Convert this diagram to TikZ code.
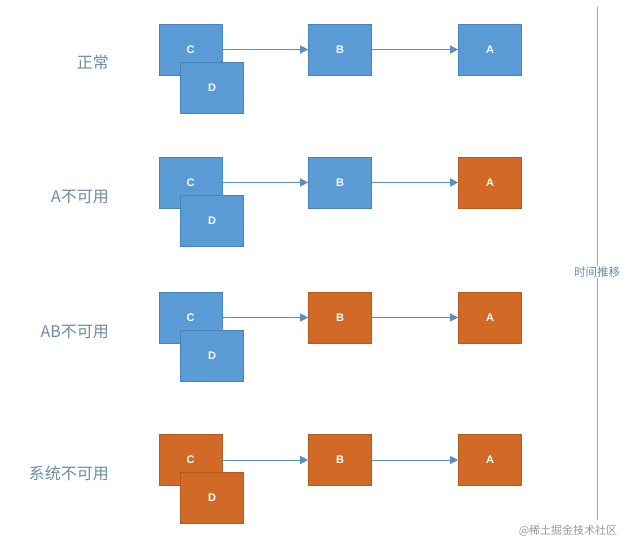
\documentclass[tikz,border=0pt]{standalone}
\usepackage{fontspec}
\setmainfont{Liberation Sans}
\newfontfamily\cjk{Noto Sans CJK SC}
\usetikzlibrary{arrows.meta}
\definecolor{boxblue}{HTML}{5B9BD5}
\definecolor{boxblueedge}{HTML}{4A84BC}
\definecolor{boxorange}{HTML}{D16A26}
\definecolor{boxorangeedge}{HTML}{B55A1E}
\definecolor{labelcol}{HTML}{6A8CA2}
\definecolor{arrowcol}{HTML}{5B8FC4}
\definecolor{linecol}{HTML}{9AA8B2}
\tikzset{
  x=1pt, y=-1pt,
  okbox/.style={draw=boxblueedge, fill=boxblue, line width=0.6pt, minimum width=63pt, minimum height=51pt, inner sep=0pt, text=white, font=\bfseries\fontsize{11}{13}\selectfont},
  badbox/.style={okbox, draw=boxorangeedge, fill=boxorange},
  rowlabel/.style={anchor=east, text=labelcol, font=\cjk\fontsize{16}{18}\selectfont, inner sep=0pt},
  conn/.style={draw=arrowcol, line width=0.9pt, -{Triangle[length=8pt,width=8pt]}},
}
\begin{document}
\begin{tikzpicture}
\useasboundingbox (0,0) rectangle (643,557);
% time line
\coordinate (ttop) at (597,7);
\coordinate (tbot) at (597,520);
\draw[linecol, line width=1pt] (ttop) -- (tbot);
\node[fill=white, text=labelcol, font=\cjk\fontsize{11.5}{13}\selectfont, inner sep=1pt] (time) at (597,272) {时间推移};
% row 1
\node[rowlabel] (l1) at (109,62) {正常};
\node[okbox] (c1) at (190.5,49.5) {C};
\node[okbox] (d1) at (212,87.5) {D};
\node[okbox] (b1) at (340,49.5) {B};
\node[okbox] (a1) at (490,49.5) {A};
\draw[conn] (c1.east) -- (b1.west);
\draw[conn] (b1.east) -- (a1.west);
% row 2
\node[rowlabel] (l2) at (109,197) {A不可用};
\node[okbox] (c2) at (190.5,182.5) {C};
\node[okbox] (d2) at (212,220.5) {D};
\node[okbox] (b2) at (340,182.5) {B};
\node[badbox] (a2) at (490,182.5) {A};
\draw[conn] (c2.east) -- (b2.west);
\draw[conn] (b2.east) -- (a2.west);
% row 3
\node[rowlabel] (l3) at (109,332) {AB不可用};
\node[okbox] (c3) at (190.5,317.5) {C};
\node[okbox] (d3) at (212,356) {D};
\node[badbox] (b3) at (340,317.5) {B};
\node[badbox] (a3) at (490,317.5) {A};
\draw[conn] (c3.east) -- (b3.west);
\draw[conn] (b3.east) -- (a3.west);
% row 4
\node[rowlabel] (l4) at (109,473) {系统不可用};
\node[badbox] (c4) at (190.5,460) {C};
\node[badbox] (d4) at (212,498) {D};
\node[badbox] (b4) at (340,460) {B};
\node[badbox] (a4) at (490,460) {A};
\draw[conn] (c4.east) -- (b4.west);
\draw[conn] (b4.east) -- (a4.west);
% watermark
\node[text=black!40, font=\cjk\fontsize{11}{13}\selectfont, inner sep=0pt] (wm) at (568,531) {@稀土掘金技术社区};
\end{tikzpicture}
\end{document}
